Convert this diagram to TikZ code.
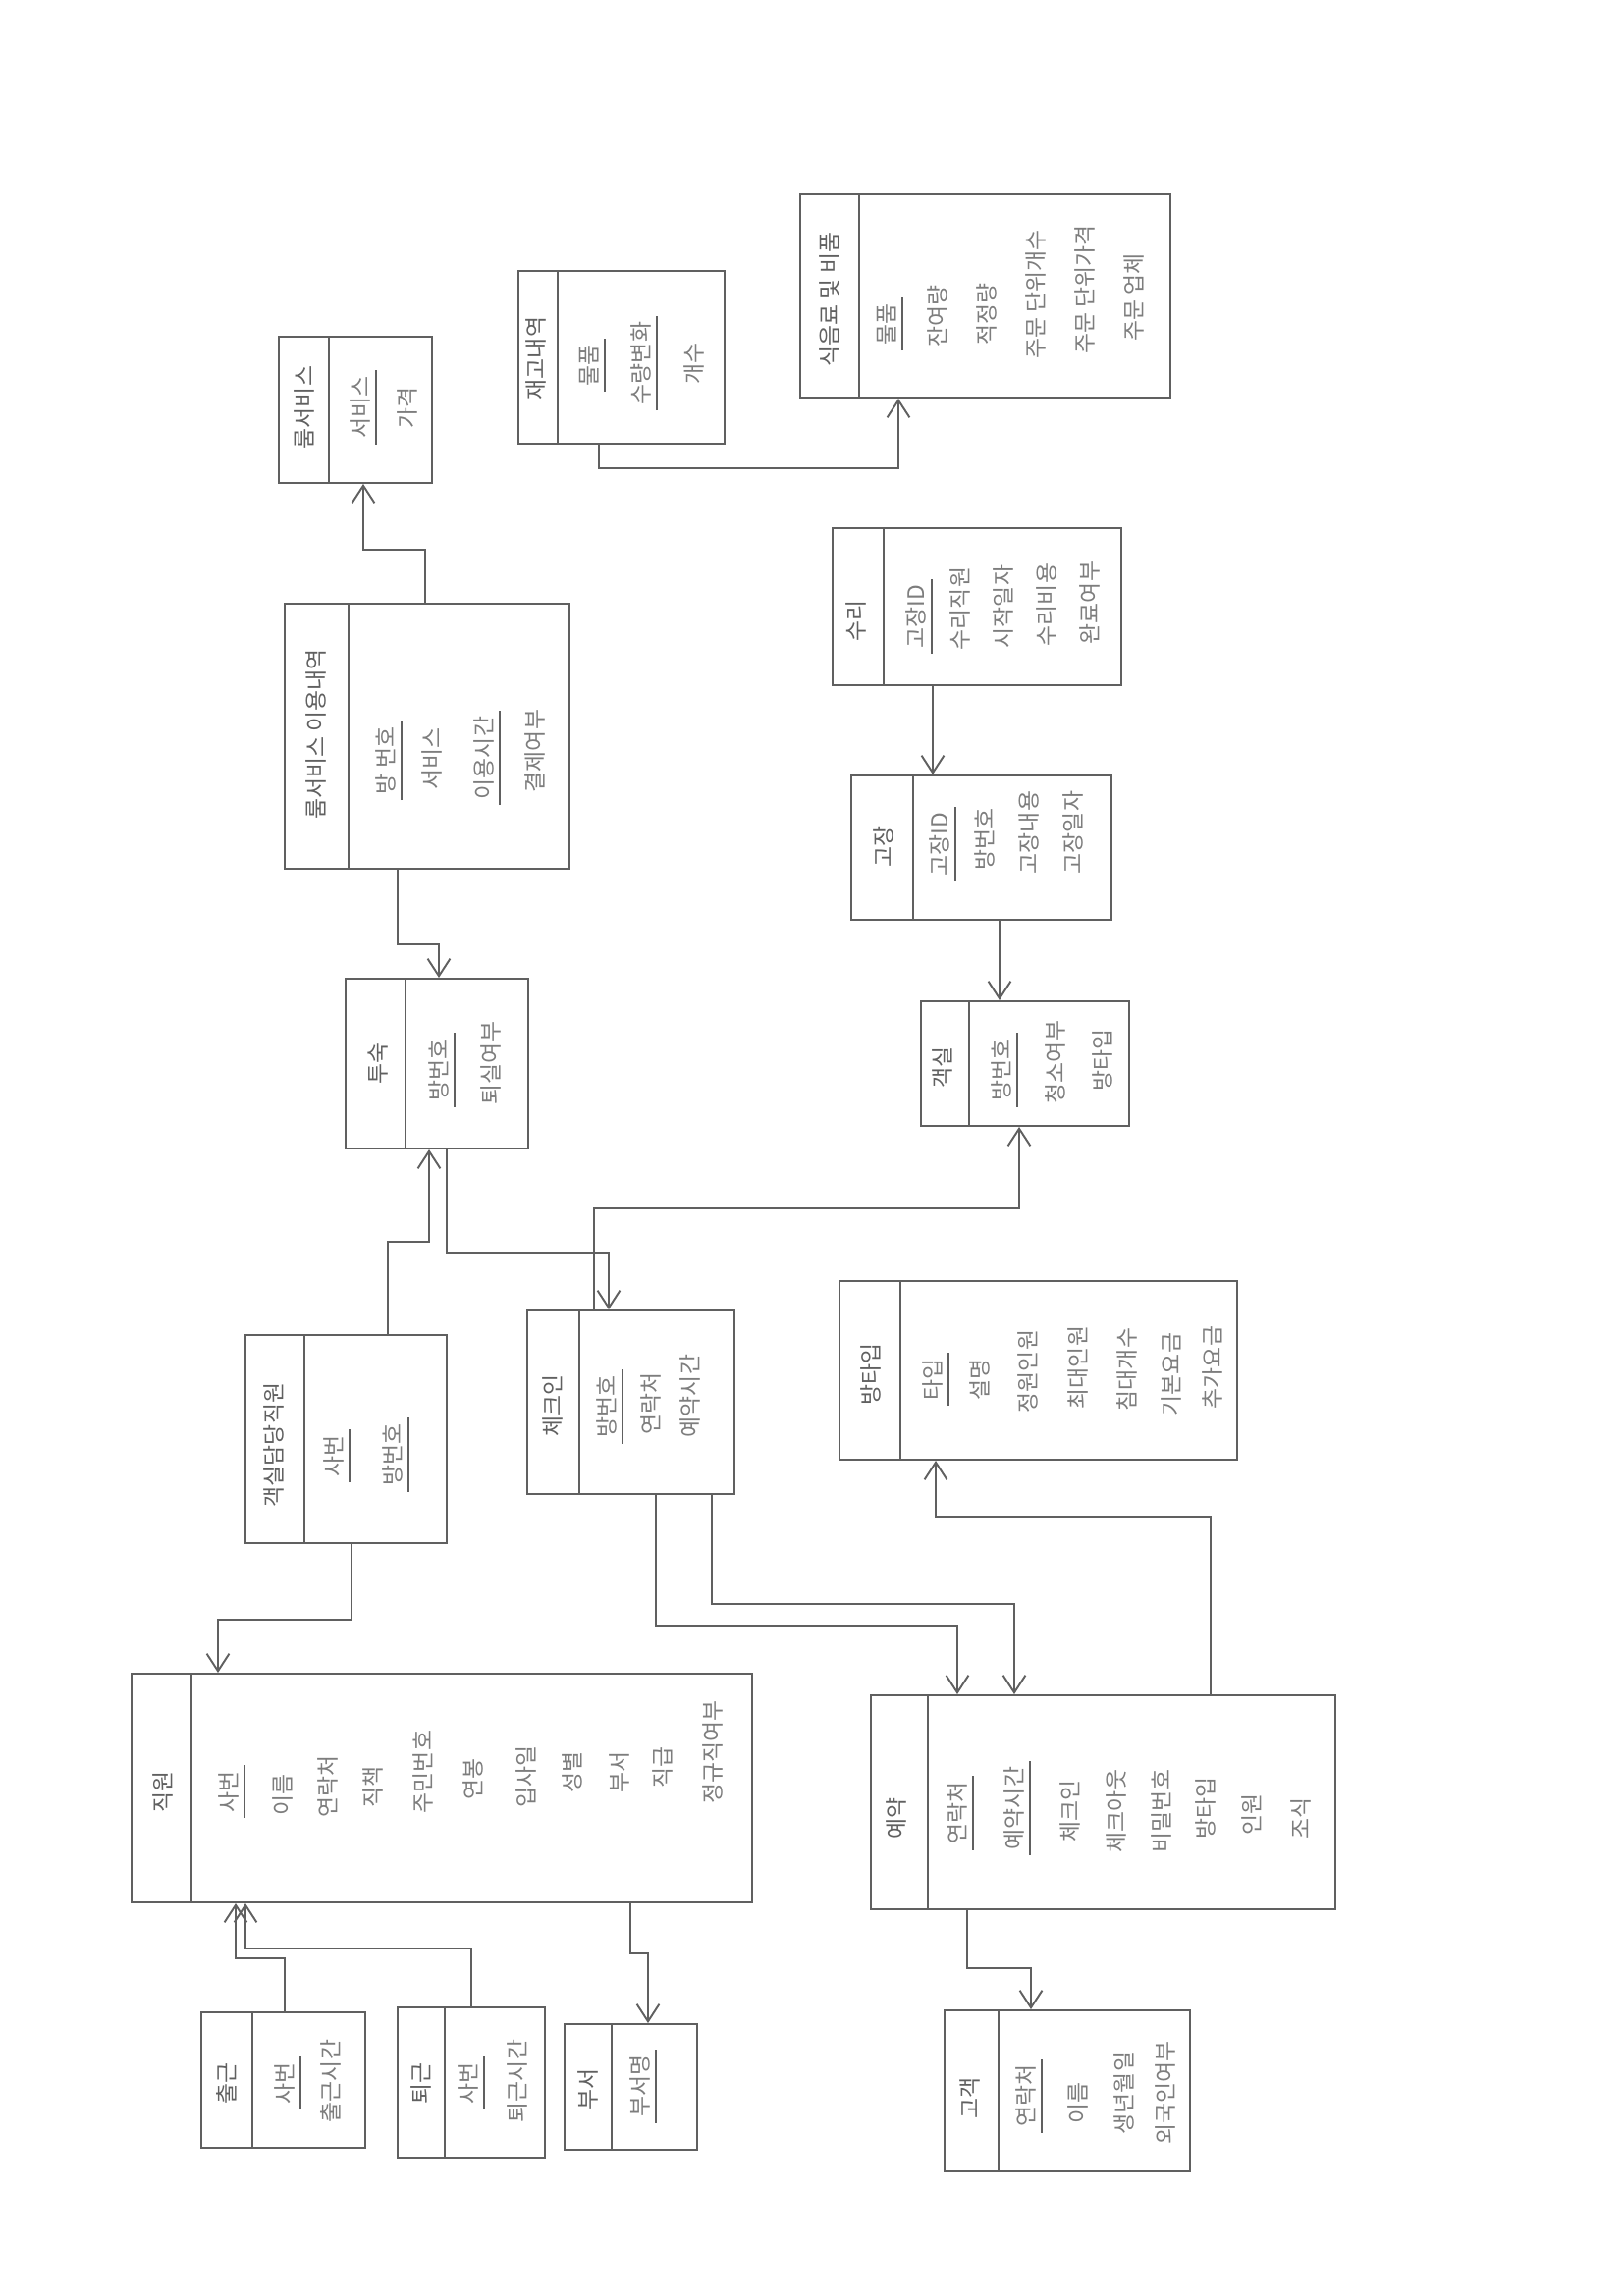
\documentclass[tikz,border=0pt]{standalone}
\usepackage{fontspec}
\newfontfamily\krfont{Noto Sans CJK KR}
\usepackage{tikz}
\usetikzlibrary{arrows.meta,fit}
\definecolor{pencil}{RGB}{96,96,96}
\definecolor{lead}{RGB}{125,125,125}

\begin{document}
\begin{tikzpicture}[x=0.01cm,y=-0.01cm,
		ln/.style={draw=pencil,line width=0.55pt},
		tbl/.style={ln,inner sep=0pt},
		rel/.style={ln,-{Straight Barb[length=5pt,width=6.5pt]}},
		ttl/.style={rotate=90,inner sep=1.5pt,text=pencil,font=\krfont\fontsize{6.5}{7}\selectfont},
		att/.style={rotate=90,inner sep=1.5pt,text=lead,font=\krfont\fontsize{6.5}{7}\selectfont},
		pk/.style={append after command={(\tikzlastnode.south west) edge[ln] (\tikzlastnode.south east)}}]
		\useasboundingbox (0,0) rectangle (1653,2339);

		\node[tbl,fit={(284,343)(440,492)}] (roomsvc) {};
		\draw[ln] (roomsvc.north -| 335,0) -- (roomsvc.south -| 335,0);
		\node[ttl] (roomsvc-t) at (310,415) {룸서비스};
		\node[att,pk] (roomsvc-1) at (367,415) {서비스};
		\node[att] (roomsvc-2) at (415,415) {가격};

		\node[tbl,fit={(528,276)(738,452)}] (stock) {};
		\draw[ln] (stock.north -| 568,0) -- (stock.south -| 568,0);
		\node[ttl] (stock-t) at (546,365) {재고내역};
		\node[att,pk] (stock-1) at (600,372) {물품};
		\node[att,pk] (stock-2) at (653,370) {수량변화};
		\node[att] (stock-3) at (707,370) {개수};

		\node[tbl,fit={(815,198)(1192,405)}] (supply) {};
		\draw[ln] (supply.north -| 875,0) -- (supply.south -| 875,0);
		\node[ttl] (supply-t) at (845,305) {식음료 및 비품};
		\node[att,pk] (supply-1) at (903,330) {물품};
		\node[att] (supply-2) at (955,322) {잔여량};
		\node[att] (supply-3) at (1005,320) {적정량};
		\node[att] (supply-4) at (1055,300) {주문 단위개수};
		\node[att] (supply-5) at (1105,295) {주문 단위가격};
		\node[att] (supply-6) at (1155,303) {주문 업체};

		\node[tbl,fit={(290,615)(580,885)}] (usage) {};
		\draw[ln] (usage.north -| 355,0) -- (usage.south -| 355,0);
		\node[ttl] (usage-t) at (322,748) {룸서비스 이용내역};
		\node[att,pk] (usage-1) at (393,775) {방 번호};
		\node[att] (usage-2) at (440,773) {서비스};
		\node[att,pk] (usage-3) at (493,772) {이용시간};
		\node[att] (usage-4) at (545,765) {결제여부};

		\node[tbl,fit={(848,538)(1142,698)}] (repair) {};
		\draw[ln] (repair.north -| 900,0) -- (repair.south -| 900,0);
		\node[ttl] (repair-t) at (872,632) {수리};
		\node[att,pk] (repair-1) at (933,628) {고장ID};
		\node[att] (repair-2) at (978,620) {수리직원};
		\node[att] (repair-3) at (1022,618) {시작일자};
		\node[att] (repair-4) at (1066,616) {수리비용};
		\node[att] (repair-5) at (1110,614) {완료여부};

		\node[tbl,fit={(867,790)(1132,937)}] (fault) {};
		\draw[ln] (fault.north -| 930,0) -- (fault.south -| 930,0);
		\node[ttl] (fault-t) at (900,862) {고장};
		\node[att,pk] (fault-1) at (957,860) {고장ID};
		\node[att] (fault-2) at (1003,855) {방번호};
		\node[att] (fault-3) at (1048,848) {고장내용};
		\node[att] (fault-4) at (1093,848) {고장일자};

		\node[tbl,fit={(352,997)(538,1170)}] (stay) {};
		\draw[ln] (stay.north -| 413,0) -- (stay.south -| 413,0);
		\node[ttl] (stay-t) at (385,1083) {투숙};
		\node[att,pk] (stay-1) at (447,1090) {방번호};
		\node[att] (stay-2) at (500,1083) {퇴실여부};

		\node[tbl,fit={(938,1020)(1150,1147)}] (room) {};
		\draw[ln] (room.north -| 987,0) -- (room.south -| 987,0);
		\node[ttl] (room-t) at (960,1087) {객실};
		\node[att,pk] (room-1) at (1020,1090) {방번호};
		\node[att] (room-2) at (1075,1082) {청소여부};
		\node[att] (room-3) at (1123,1080) {방타입};

		\node[tbl,fit={(250,1360)(455,1572)}] (roomstaff) {};
		\draw[ln] (roomstaff.north -| 310,0) -- (roomstaff.south -| 310,0);
		\node[ttl] (roomstaff-t) at (279,1472) {객실담당직원};
		\node[att,pk] (roomstaff-1) at (340,1483) {사번};
		\node[att,pk] (roomstaff-2) at (400,1482) {방번호};

		\node[tbl,fit={(537,1335)(748,1522)}] (checkin) {};
		\draw[ln] (checkin.north -| 590,0) -- (checkin.south -| 590,0);
		\node[ttl] (checkin-t) at (563,1432) {체크인};
		\node[att,pk] (checkin-1) at (618,1433) {방번호};
		\node[att] (checkin-2) at (663,1430) {연락처};
		\node[att] (checkin-3) at (703,1422) {예약시간};

		\node[tbl,fit={(855,1305)(1260,1487)}] (roomtype) {};
		\draw[ln] (roomtype.north -| 917,0) -- (roomtype.south -| 917,0);
		\node[ttl] (roomtype-t) at (887,1400) {방타입};
		\node[att,pk] (roomtype-1) at (950,1405) {타입};
		\node[att] (roomtype-2) at (998,1405) {설명};
		\node[att] (roomtype-3) at (1047,1397) {정원인원};
		\node[att] (roomtype-4) at (1098,1393) {최대인원};
		\node[att] (roomtype-5) at (1148,1395) {침대개수};
		\node[att] (roomtype-6) at (1193,1400) {기본요금};
		\node[att] (roomtype-7) at (1235,1393) {추가요금};

		\node[tbl,fit={(134,1705)(766,1938)}] (staff) {};
		\draw[ln] (staff.north -| 195,0) -- (staff.south -| 195,0);
		\node[ttl] (staff-t) at (166,1825) {직원};
		\node[att,pk] (staff-1) at (233,1825) {사번};
		\node[att] (staff-2) at (288,1828) {이름};
		\node[att] (staff-3) at (334,1820) {연락처};
		\node[att] (staff-4) at (380,1820) {직책};
		\node[att] (staff-5) at (431,1805) {주민번호};
		\node[att] (staff-6) at (482,1812) {연봉};
		\node[att] (staff-7) at (536,1810) {입사일};
		\node[att] (staff-8) at (583,1805) {성별};
		\node[att] (staff-9) at (631,1805) {부서};
		\node[att] (staff-10) at (675,1800) {직급};
		\node[att] (staff-11) at (726,1785) {정규직여부};

		\node[tbl,fit={(887,1727)(1360,1945)}] (booking) {};
		\draw[ln] (booking.north -| 945,0) -- (booking.south -| 945,0);
		\node[ttl] (booking-t) at (913,1852) {예약};
		\node[att,pk] (booking-1) at (975,1847) {연락처};
		\node[att,pk] (booking-2) at (1033,1842) {예약시간};
		\node[att] (booking-3) at (1090,1845) {체크인};
		\node[att] (booking-4) at (1137,1845) {체크아웃};
		\node[att] (booking-5) at (1183,1845) {비밀번호};
		\node[att] (booking-6) at (1228,1842) {방타입};
		\node[att] (booking-7) at (1275,1848) {인원};
		\node[att] (booking-8) at (1325,1852) {조식};

		\node[tbl,fit={(205,2050)(372,2188)}] (clockin) {};
		\draw[ln] (clockin.north -| 257,0) -- (clockin.south -| 257,0);
		\node[ttl] (clockin-t) at (231,2122) {출근};
		\node[att,pk] (clockin-1) at (290,2122) {사번};
		\node[att] (clockin-2) at (337,2120) {출근시간};

		\node[tbl,fit={(405,2045)(555,2198)}] (clockout) {};
		\draw[ln] (clockout.north -| 453,0) -- (clockout.south -| 453,0);
		\node[ttl] (clockout-t) at (429,2122) {퇴근};
		\node[att,pk] (clockout-1) at (477,2122) {사번};
		\node[att] (clockout-2) at (527,2120) {퇴근시간};

		\node[tbl,fit={(575,2062)(710,2190)}] (dept) {};
		\draw[ln] (dept.north -| 623,0) -- (dept.south -| 623,0);
		\node[ttl] (dept-t) at (599,2128) {부서};
		\node[att,pk] (dept-1) at (652,2125) {부서명};

		\node[tbl,fit={(962,2048)(1212,2212)}] (guest) {};
		\draw[ln] (guest.north -| 1017,0) -- (guest.south -| 1017,0);
		\node[ttl] (guest-t) at (988,2137) {고객};
		\node[att,pk] (guest-1) at (1045,2135) {연락처};
		\node[att] (guest-2) at (1098,2142) {이름};
		\node[att] (guest-3) at (1145,2132) {생년월일};
		\node[att] (guest-4) at (1187,2132) {외국인여부};

		\draw[rel] (usage.north -| 433,0) |- (370,560) -- (roomsvc.south -| 370,0);
		\draw[rel] (stock.south -| 610,0) |- (915,477) -- (supply.south -| 915,0);
		\draw[rel] (usage.south -| 405,0) |- (447,962) -- (stay.north -| 447,0);
		\draw[rel] (repair.south -| 950,0) -- (fault.north -| 950,0);
		\draw[rel] (fault.south -| 1018,0) -- (room.north -| 1018,0);
		\draw[rel] (roomstaff.north -| 395,0) |- (437,1265) -- (stay.south -| 437,0);
		\draw[rel] (stay.south -| 455,0) |- (620,1276) -- (checkin.north -| 620,0);
		\draw[rel] (checkin.north -| 605,0) |- (1038,1231) -- (room.south -| 1038,0);
		\draw[rel] (checkin.south -| 668,0) |- (975,1656) -- (booking.north -| 975,0);
		\draw[rel] (checkin.south -| 725,0) |- (1033,1634) -- (booking.north -| 1033,0);
		\draw[rel] (booking.north -| 1233,0) |- (953,1545) -- (roomtype.south -| 953,0);
		\draw[rel] (roomstaff.south -| 358,0) |- (222,1650) -- (staff.north -| 222,0);
		\draw[rel] (clockin.north -| 290,0) |- (240,1995) -- (staff.south -| 240,0);
		\draw[rel] (clockout.north -| 480,0) |- (250,1985) -- (staff.south -| 250,0);
		\draw[rel] (staff.south -| 642,0) |- (660,1990) -- (dept.north -| 660,0);
		\draw[rel] (booking.south -| 985,0) |- (1050,2005) -- (guest.north -| 1050,0);
\end{tikzpicture}
\end{document}
